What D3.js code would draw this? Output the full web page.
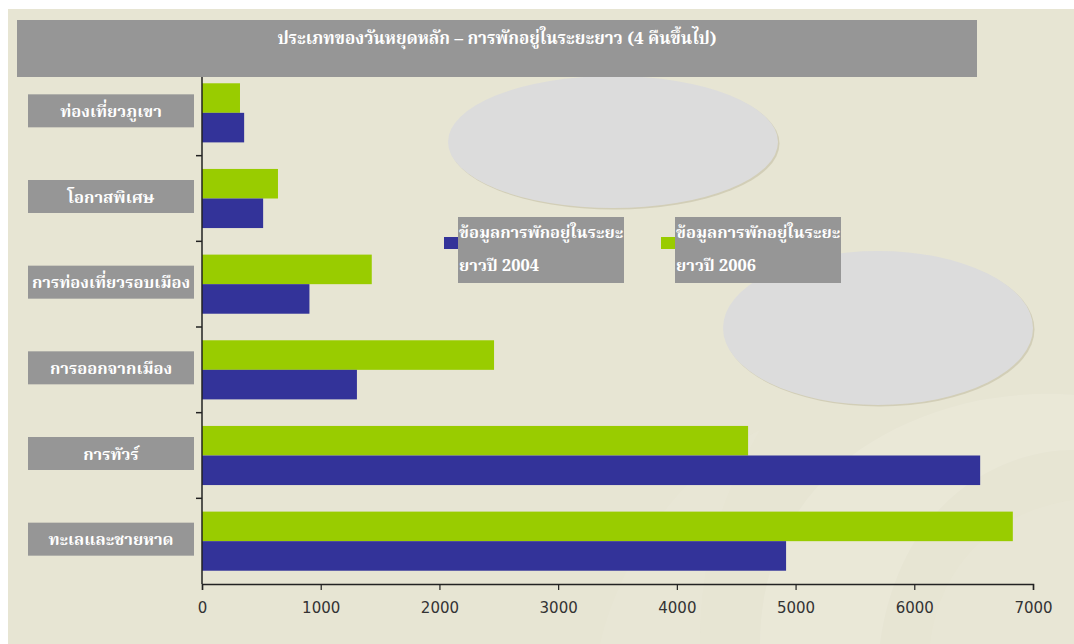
<!DOCTYPE html>
<html><head><meta charset="utf-8">
<script src="https://cdn.jsdelivr.net/npm/d3@7"></script>
<style>
html,body{margin:0;padding:0;background:#fff;}
svg{display:block;}
.thai{font-family:"Noto Serif Thai","Noto Sans Thai","Garuda","Loma","Norasi","Kinnari","Tlwg Typo","DejaVu Serif",serif;}
</style>
</head><body>
<svg id="c" width="1074" height="644"></svg>
<script>
const title = "ประเภทของวันหยุดหลัก – การพักอยู่ในระยะยาว (4 คืนขึ้นไป)";
const categories = ["ท่องเที่ยวภูเขา","โอกาสพิเศษ","การท่องเที่ยวรอบเมือง","การออกจากเมือง","การทัวร์","ทะเลและชายหาด"];
const values2006 = [320, 640, 1430, 2460, 4600, 6830];
const values2004 = [355, 515, 905, 1305, 6555, 4920];
const seriesNames = ["ข้อมูลการพักอยู่ในระยะ|ยาวปี 2004","ข้อมูลการพักอยู่ในระยะ|ยาวปี 2006"];
const seriesColors = ["#333399","#99cc00"];
const xTicks = [0,1000,2000,3000,4000,5000,6000,7000];

const svg = d3.select("#c");
const W = 1074, H = 644;

// background
svg.append("rect").attr("x",8).attr("y",9).attr("width",W-8).attr("height",H-9).attr("fill","#e7e5d3");
// faint decorative swirl
const deco = svg.append("g").attr("fill","#eceadb").attr("opacity",0.6);
deco.append("path").attr("d","M760,644 C760,520 840,430 980,400 C1040,390 1074,395 1074,395 L1074,450 C1000,450 900,500 880,644 Z");
deco.append("path").attr("d","M930,644 C940,560 1000,510 1074,500 L1074,644 Z").attr("opacity",0.6);
deco.append("path").attr("d","M600,644 C620,560 680,470 760,430 C720,500 700,560 700,644 Z").attr("opacity",0.6);

// decorative ellipses
const ells = [{cx:613,cy:142,rx:165,ry:66},{cx:878,cy:328,rx:155,ry:77}];
svg.selectAll("ellipse.sh").data(ells).join("ellipse").attr("class","sh")
  .attr("cx",d=>d.cx+1.5).attr("cy",d=>d.cy+1.5).attr("rx",d=>d.rx).attr("ry",d=>d.ry).attr("fill","#bdb89c").attr("opacity",0.5);
svg.selectAll("ellipse.el").data(ells).join("ellipse").attr("class","el")
  .attr("cx",d=>d.cx).attr("cy",d=>d.cy).attr("rx",d=>d.rx).attr("ry",d=>d.ry).attr("fill","#dcdcdc");

// scales
const x = d3.scaleLinear().domain([0,7000]).range([202,1033]);
const y = d3.scaleBand().domain(categories).range([70,584]).paddingInner(0.31).paddingOuter(0.155);
const sub = d3.scaleBand().domain([1,0]).range([0,y.bandwidth()]);

// bars
const rows = categories.map((c,i)=>({c, vals:[values2004[i], values2006[i]]}));
const g = svg.append("g");
rows.forEach(r=>{
  [1,0].forEach(s=>{
    g.append("rect").attr("x",x(0)).attr("y",y(r.c)+sub(s)).attr("width",x(r.vals[s])-x(0)).attr("height",sub.bandwidth()).attr("fill",seriesColors[s]);
  });
});

// x axis
const xa = svg.append("g").attr("transform","translate(0,584)")
  .call(d3.axisBottom(x).tickValues(xTicks).tickSize(6).tickSizeOuter(6).tickFormat(d3.format("d")));
xa.select(".domain").attr("stroke","#222").attr("stroke-width",1.5);
xa.selectAll(".tick line").attr("stroke","#222").attr("stroke-width",1.2);
xa.selectAll(".tick text").attr("font-family","'DejaVu Sans',Verdana,sans-serif").attr("font-size",15).attr("fill","#333").attr("dy","1.3em");

// y axis line with ticks at band boundaries
const step = y.step();
const bounds = d3.range(categories.length+1).map(i=>584 - i*step);
svg.append("line").attr("x1",202).attr("x2",202).attr("y1",77).attr("y2",584).attr("stroke","#222").attr("stroke-width",1.5);
svg.selectAll("line.yt").data(bounds.slice(1,6)).join("line").attr("class","yt")
  .attr("x1",196).attr("x2",202).attr("y1",d=>d).attr("y2",d=>d).attr("stroke","#222").attr("stroke-width",1.5);

// category label boxes
const lab = svg.selectAll("g.lab").data(categories).join("g").attr("class","lab")
  .attr("transform",d=>`translate(0,${y(d)+y.bandwidth()/2-2})`);
lab.append("rect").attr("x",28).attr("y",-16.5).attr("width",166).attr("height",33).attr("fill","#969696");
lab.append("text").attr("class","thai").attr("x",111).attr("y",6).attr("text-anchor","middle")
  .attr("fill","#fff").attr("font-size",16.5).attr("font-weight","bold").text(d=>d);

// title
svg.append("rect").attr("x",17).attr("y",20).attr("width",960).attr("height",57).attr("fill","#969696");
svg.append("text").attr("class","thai").attr("x",497).attr("y",44).attr("text-anchor","middle")
  .attr("fill","#fff").attr("font-size",17).attr("font-weight","bold").text(title);

// legend
const leg = svg.selectAll("g.leg").data(seriesNames).join("g").attr("class","leg")
  .attr("transform",(d,i)=>`translate(${[444,661][i]},217)`);
leg.append("rect").attr("x",0).attr("y",20).attr("width",14).attr("height",12).attr("fill",(d,i)=>seriesColors[i]);
leg.append("rect").attr("x",14).attr("y",0).attr("width",166).attr("height",66).attr("fill","#969696");
leg.each(function(d){
  const t = d3.select(this).append("text").attr("class","thai").attr("fill","#fff").attr("font-size",16.5).attr("font-weight","bold");
  d.split("|").forEach((ln,k)=>t.append("tspan").attr("x",15).attr("y",21+k*33).text(ln));
});
</script>
</body></html>
